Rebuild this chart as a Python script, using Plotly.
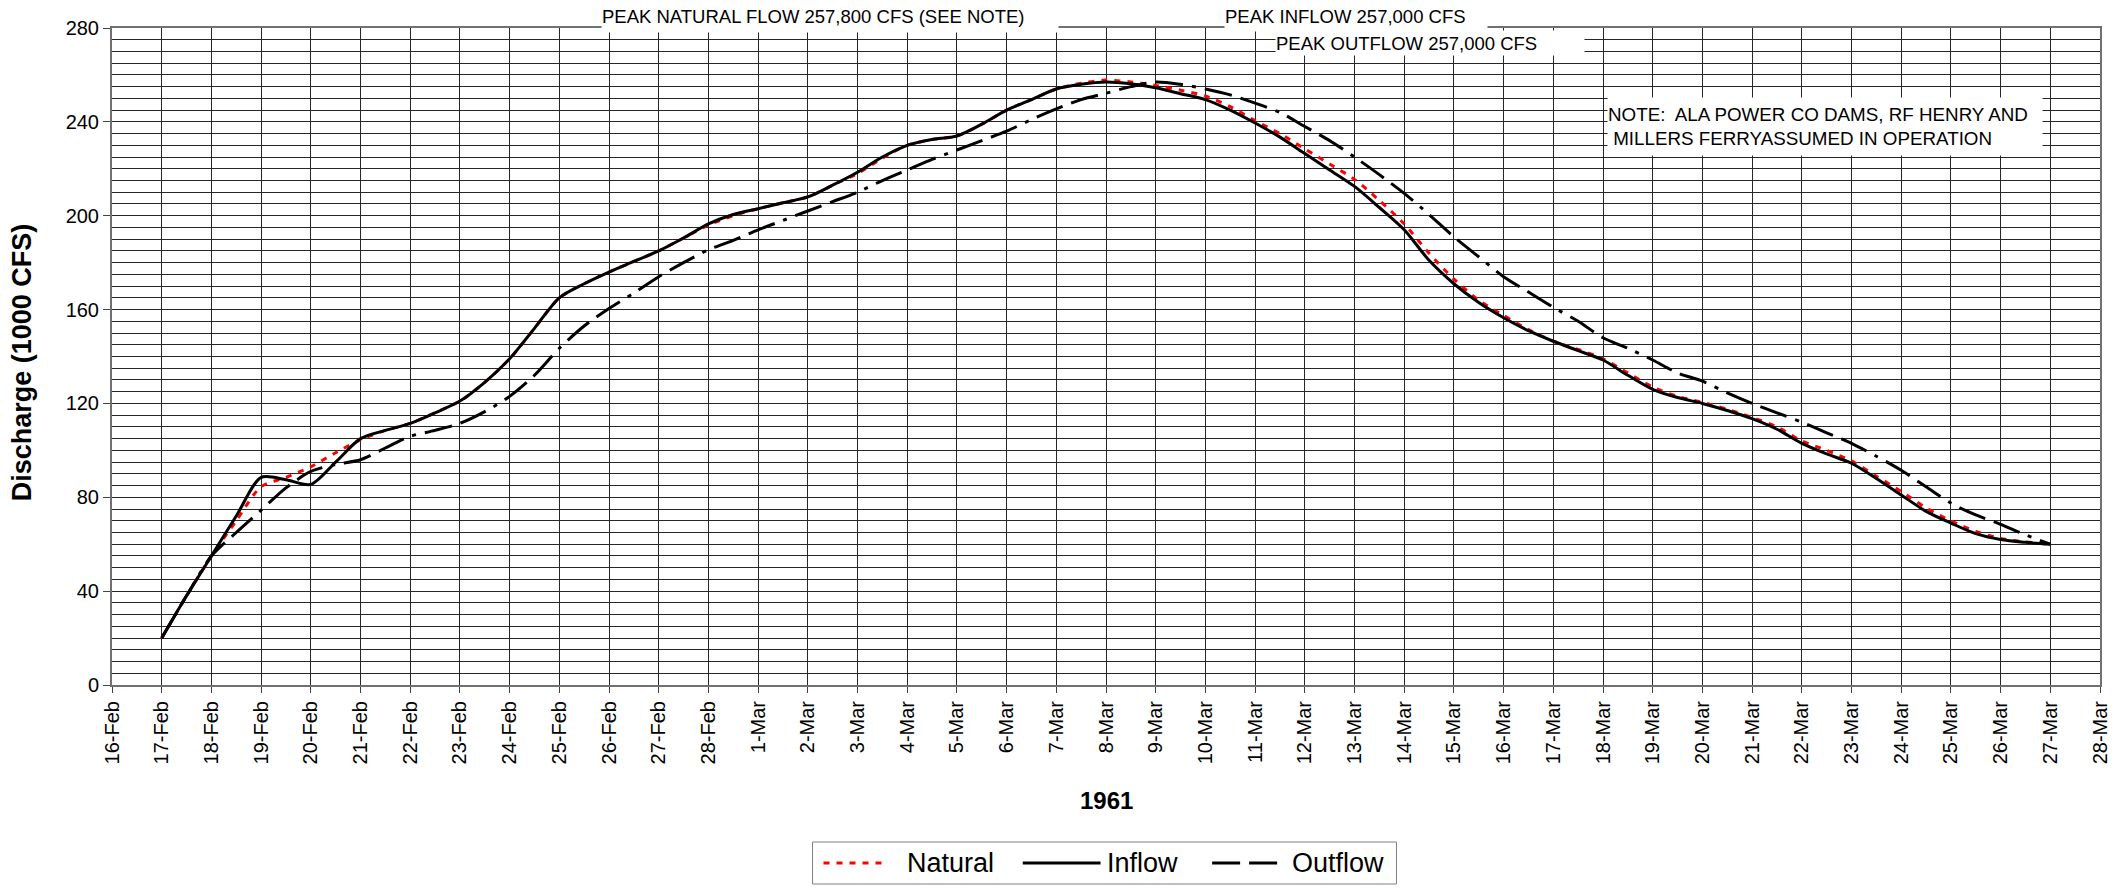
import pandas as pd
import plotly.graph_objects as go

# 12-hourly discharge, 17-Feb-1961 through 27-Mar-1961 (1000 cfs)
times = pd.date_range("1961-02-17", "1961-03-27", freq="12h")

natural = [
    20, 38, 55, 70, 84.5, 88.5, 93, 99, 104.5, 108.5, 111.5, 116,
    121, 129, 139, 152, 165, 171, 176, 180.5, 185, 190.5, 196, 200,
    203, 205.5, 208, 213, 218, 224.5, 230, 232.5, 234, 239, 245, 249.5,
    254, 256.5, 257.8, 257, 255.5, 253.5, 251, 246.5, 240.5, 235, 228.5, 222,
    215.5, 206.5, 196.5, 184, 173, 164, 157.5, 151.5, 146.5, 143, 139, 133,
    127, 123, 120.5, 117.5, 114, 110, 104, 100, 95.5, 89, 82.5, 75.5,
    70, 65.5, 62.5, 61, 60,
]

inflow = [
    20, 38, 55, 72, 88.5, 87.5, 85.5, 95, 105, 108.5, 111.5, 116,
    121, 129, 139, 152, 165, 171, 176, 180.5, 185, 190.5, 196.5, 200.5,
    203, 205.5, 208, 213, 218.5, 225, 230, 232.5, 234, 239, 245, 249.5,
    254, 256, 257.0, 256.2, 254.5, 252, 249.5, 245, 239.5, 233.5, 226.5, 219.5,
    212.5, 203.5, 194, 181, 171, 163, 156.5, 151, 146.5, 142.5, 138.5, 132,
    126, 122.5, 120, 117, 113.5, 109, 103, 98.5, 94.5, 88, 81, 74,
    69, 64.5, 62, 60.8, 60,
]

outflow = [
    20, 38, 55, 65, 74.5, 84, 91, 94, 96, 101, 106, 108.5,
    111.5, 116.5, 123, 132, 143.5, 153, 160.5, 167, 174, 180, 185.5, 189.5,
    194, 198, 202, 206, 210, 215, 219.5, 224, 228, 232, 236, 241,
    245.5, 249.5, 252.2, 255, 257.0, 256, 254, 251.5, 248, 244, 238, 232,
    225, 217.5, 209.5, 200.5, 191, 182.5, 174, 167.5, 161, 155, 148, 143.5,
    138.5, 133, 129.5, 124.5, 120, 116, 112, 107.5, 103, 97.5, 91.5, 84.5,
    77.5, 72.5, 68.5, 64, 60,
]

series_names = ["Natural", "Inflow", "Outflow"]
series_colors = ["#ff0000", "#000000", "#000000"]
series_dashes = ["6px,7px", "solid", "28px,9px,28px,9px,4px,9px"]

FONT = "Arial, Liberation Sans, sans-serif"

fig = go.Figure()
for name, vals, color, dash in zip(series_names, [natural, inflow, outflow],
                                   series_colors, series_dashes):
    fig.add_trace(go.Scatter(
        x=times, y=vals, name=name, mode="lines", showlegend=False,
        line=dict(color=color, width=3, dash=dash, shape="spline", smoothing=0.8),
    ))

# plot area in pixels: left 112, right 2107, top 28, bottom 685
L, R, T, B = 112, 2107, 28, 685
W, H = R - L, B - T


def px(x):
    return (x - L) / W


def py(y):
    return (B - y) / H


fig.update_layout(
    width=2123, height=888,
    margin=dict(l=L, r=2123 - R, t=T, b=888 - B),
    paper_bgcolor="white", plot_bgcolor="white",
    font=dict(family=FONT, size=20, color="black"),
    showlegend=False,
)

fig.update_xaxes(
    type="date",
    range=["1961-02-16", "1961-03-28"],
    dtick=86400000, tick0="1961-02-16",
    tickformat="%-d-%b", tickangle=-90,
    tickfont=dict(family=FONT, size=20),
    ticks="outside", ticklen=6, tickcolor="#444",
    showgrid=True, gridcolor="#262626", gridwidth=1,
    showline=True, linecolor="#707070", linewidth=2, mirror=True,
    zeroline=False,
)
fig.update_yaxes(
    range=[0, 280], dtick=40, tick0=0,
    tickfont=dict(family=FONT, size=20),
    ticks="outside", ticklen=7, tickcolor="#444",
    showgrid=True, gridcolor="#262626", gridwidth=1,
    minor=dict(dtick=5, showgrid=True, gridcolor="#262626", gridwidth=1),
    showline=True, linecolor="#707070", linewidth=2, mirror=True,
    zeroline=False,
)

# axis titles
fig.add_annotation(
    text="<b>Discharge (1000 CFS)</b>", textangle=-90,
    xref="paper", yref="paper", x=px(22), y=py(362),
    xanchor="center", yanchor="middle", showarrow=False,
    font=dict(family=FONT, size=27, color="black"),
)
fig.add_annotation(
    text="<b>1961</b>",
    xref="paper", yref="paper", x=px(1110), y=py(800),
    xanchor="center", yanchor="middle", showarrow=False,
    font=dict(family=FONT, size=24, color="black"),
)

# peak flow labels and note, white boxed text
label_font = dict(family=FONT, size=18.5, color="black")
fig.add_annotation(
    text="PEAK NATURAL FLOW 257,800 CFS (SEE NOTE)",
    xref="paper", yref="paper", x=px(603), y=py(0),
    xanchor="left", yanchor="top", width=456, height=31,
    align="left", valign="middle", showarrow=False,
    bgcolor="white", borderpad=0, font=label_font,
)
fig.add_annotation(
    text="PEAK INFLOW 257,000 CFS",
    xref="paper", yref="paper", x=px(1228), y=py(0),
    xanchor="left", yanchor="top", width=262, height=30,
    align="left", valign="middle", showarrow=False,
    bgcolor="white", borderpad=0, font=label_font,
)
fig.add_annotation(
    text="PEAK OUTFLOW 257,000 CFS",
    xref="paper", yref="paper", x=px(1279), y=py(30),
    xanchor="left", yanchor="top", width=308, height=24,
    align="left", valign="middle", showarrow=False,
    bgcolor="white", borderpad=0, font=label_font,
)
fig.add_annotation(
    text="NOTE:\u00a0 ALA POWER CO DAMS, RF HENRY AND<br>\u00a0MILLERS FERRYASSUMED IN OPERATION",
    xref="paper", yref="paper", x=px(1612), y=py(97),
    xanchor="left", yanchor="top", width=434, height=57,
    align="left", valign="middle", showarrow=False,
    bgcolor="white", borderpad=0, font=dict(family=FONT, size=18.8, color="black"),
)

# legend box below the axis: sample line followed by series name
LEG_TOP, LEG_BOT = 842, 884
LEG_MID = (LEG_TOP + LEG_BOT) / 2
fig.add_shape(
    type="rect", xref="paper", yref="paper",
    x0=px(815), x1=px(1401), y0=py(LEG_BOT), y1=py(LEG_TOP),
    line=dict(color="#808080", width=1), fillcolor="white", layer="above",
)
legend_samples = [(826, 890, 908), (1026, 1104, 1108), (1216, 1290, 1294)]
for name, color, dash, (x0, x1, xt) in zip(series_names, series_colors,
                                           series_dashes, legend_samples):
    fig.add_shape(
        type="line", xref="paper", yref="paper",
        x0=px(x0), x1=px(x1), y0=py(LEG_MID), y1=py(LEG_MID),
        line=dict(color=color, width=3, dash=dash), layer="above",
    )
    fig.add_annotation(
        text=name, xref="paper", yref="paper", x=px(xt), y=py(LEG_MID),
        xanchor="left", yanchor="middle", showarrow=False,
        font=dict(family=FONT, size=27, color="black"),
    )

fig.write_html("out.html")
